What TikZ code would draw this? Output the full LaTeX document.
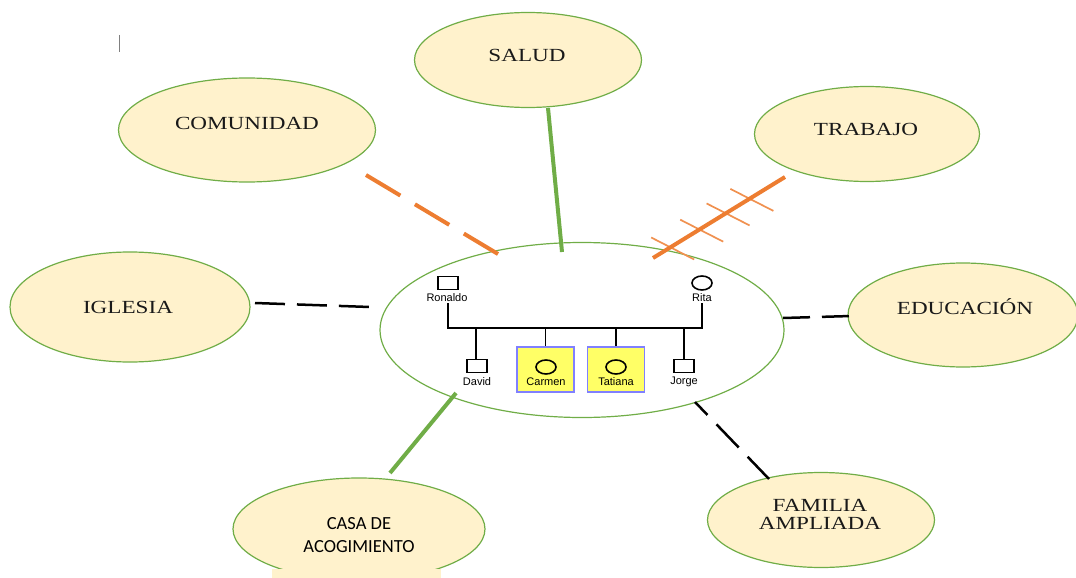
\documentclass[tikz,border=0pt]{standalone}
\usepackage{fontspec}
\newfontfamily\tiempos[FakeStretch=1.25]{Liberation Serif}
\newfontfamily\calibri{Carlito}
\newfontfamily\arial{Liberation Sans}
\usetikzlibrary{calc,shapes.geometric}

\definecolor{crema}{RGB}{255,242,204}
\definecolor{verde}{RGB}{112,173,71}
\definecolor{naranja}{RGB}{237,125,49}
\definecolor{amarillo}{RGB}{255,255,102}
\definecolor{azul}{RGB}{128,128,255}

\begin{document}
\begin{tikzpicture}[x=1pt, y=-1pt,
    campo/.style = {ellipse, draw=verde, line width=1.2, fill=crema, inner sep=0},
    rotulo/.style = {font=\tiempos\fontsize{18.5}{18}\selectfont, align=center, text=black!90, inner sep=0},
    varon/.style = {rectangle, draw, line width=1.6, minimum width=20, minimum height=13, inner sep=0},
    mujer/.style = {ellipse, draw, line width=1.6, minimum width=20, minimum height=14, inner sep=0},
    caja/.style = {rectangle, draw=azul, line width=1.6, fill=amarillo, minimum width=57, minimum height=45, inner sep=0},
    nombre/.style = {font=\arial\fontsize{11}{11}\selectfont, inner sep=0},
    linea/.style = {line width=1.6},
    verdeg/.style = {verde, line width=4},
    naranjag/.style = {naranja, line width=4},
    negrog/.style = {black, line width=2.5}]
 \useasboundingbox (0,0) rectangle (1076,578);

 % campos
 \node[campo, minimum width=227, minimum height=95] (salud) at (528,60) {};
 \node[campo, minimum width=257, minimum height=104] (comunidad) at (247,130) {};
 \node[campo, minimum width=225, minimum height=95] (trabajo) at (867,134) {};
 \node[campo, minimum width=240, minimum height=110] (iglesia) at (130,307) {};
 \node[campo, minimum width=230, minimum height=104] (educacion) at (963,315) {};
 \node[campo, minimum width=252, minimum height=102] (casa) at (359,529) {};
 \node[campo, minimum width=227, minimum height=95] (familia) at (821,520) {};
 \fill[crema] (272,569) rectangle (441,578);
 \node[ellipse, draw=verde, line width=1.2, minimum width=404, minimum height=175] (hogar) at (582,330) {};

 \node[rotulo] (salud-t) at (527,55) {SALUD};
 \node[rotulo] (comunidad-t) at (247,123) {COMUNIDAD};
 \node[rotulo] (trabajo-t) at (866,129) {TRABAJO};
 \node[rotulo] (iglesia-t) at (128,307) {IGLESIA};
 \node[rotulo] (educacion-t) at (965,307) {EDUCACIÓN};
 \node[rotulo] (familia-t) at (820,514) {FAMILIA\\AMPLIADA};
 \node[font=\calibri\fontsize{18.5}{23}\selectfont, align=center, inner sep=0] (casa-t) at (359,535) {CASA DE\\ACOGIMIENTO};

 \draw[gray, line width=0.8] (119.5,35) -- (119.5,52);

 % genograma
 \node[varon] (ronaldo) at (448,283) {};
 \node[nombre] (ronaldo-n) at (447,298) {Ronaldo};
 \node[mujer] (rita) at (702,283) {};
 \node[nombre] (rita-n) at (702,298) {Rita};
 \node[varon] (david) at (477,366) {};
 \node[nombre] (david-n) at (477,382) {David};
 \node[caja] (carmen-c) at (545.5,369.5) {};
 \node[mujer] (carmen) at (546,367) {};
 \node[nombre] (carmen-n) at (546,382) {Carmen};
 \node[caja] (tatiana-c) at (616,369.5) {};
 \node[mujer] (tatiana) at (616,367) {};
 \node[nombre] (tatiana-n) at (616,382) {Tatiana};
 \node[varon] (jorge) at (684,366) {};
 \node[nombre] (jorge-n) at (684,382) {Jorge};

 \draw[linea] (448,303) -- (448,328) -- (702,328) -- (702,303);
 \draw[linea] (david.north -| 476,0) -- (476,328);
 \draw[linea] (carmen-c.north) -- (carmen-c.north |- 0,328);
 \draw[linea] (tatiana-c.north) -- (tatiana-c.north |- 0,328);
 \draw[linea] (jorge.north) -- (jorge.north |- 0,328);

 % relaciones
 \coordinate (s1) at (548,108);  \coordinate (s2) at (562,252);
 \coordinate (c1) at (366,175);  \coordinate (c2) at (498,254);
 \coordinate (t1) at (653,258);  \coordinate (t2) at (785,177);
 \coordinate (i1) at (255,303);  \coordinate (i2) at (370,307);
 \coordinate (e1) at (783,318);  \coordinate (e2) at (851,316);
 \coordinate (a1) at (456,393);  \coordinate (a2) at (390,473);
 \coordinate (f1) at (695,402);  \coordinate (f2) at (769,479);

 \draw[verdeg] (s1) -- (s2);
 \draw[verdeg] (a1) -- (a2);
 \draw[naranjag, dash pattern=on 40 off 17] (c1) -- (c2);
 \foreach \p in {0.13,0.35,0.55,0.73}
   \draw[naranja!85, line width=1.7] ($(t1)!\p!(t2)$) ++(-19,-10) -- ++(43,22);
 \draw[naranjag] (t1) -- (t2);
 \draw[negrog, dash pattern=on 30 off 12] (i1) -- (i2);
 \draw[negrog, dash pattern=on 27 off 12] (e1) -- (e2);
 \draw[negrog, dash pattern=on 32 off 13, dash phase=14] (f1) -- (f2);
\end{tikzpicture}
\end{document}
